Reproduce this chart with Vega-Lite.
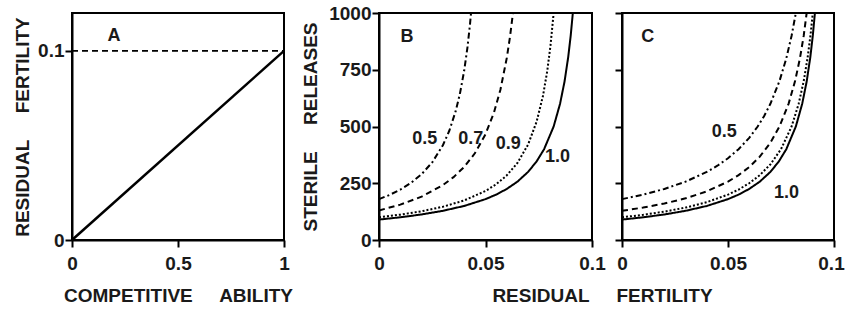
{
  "$schema": "https://vega.github.io/schema/vega-lite/v6.json",
  "background": "white",
  "padding": {"left": 12, "top": 3, "right": 0, "bottom": 5},
  "config": {
    "view": {"stroke": "black", "strokeWidth": 2},
    "font": "Liberation Sans",
    "axis": {
      "grid": false, "domainColor": "black", "domainWidth": 2,
      "tickColor": "black", "tickWidth": 2, "tickSize": 7,
      "labelFont": "Liberation Sans", "labelFontWeight": "bold", "labelFontSize": 19, "labelColor": "#1a1a1a",
      "titleFont": "Liberation Sans", "titleFontWeight": "bold", "titleFontSize": 19, "titleColor": "#1a1a1a",
      "labelFlush": false, "labelOverlap": false
    },
    "axisX": {"labelPadding": 7, "titlePadding": 13},
    "axisY": {"labelPadding": 1, "titlePadding": 5}
  },
  "datasets": {
    "lineA": [{"x": 0, "y": 0}, {"x": 1, "y": 0.1}],
    "dashA": [{"x": 0, "y": 0.1}, {"x": 1, "y": 0.1}],
    "B": [
      {"c": "0.5", "f": 0, "S": 180}, {"c": "0.5", "f": 0.005, "S": 198.7}, {"c": "0.5", "f": 0.01, "S": 222}, {"c": "0.5", "f": 0.015, "S": 251.5}, {"c": "0.5", "f": 0.02, "S": 289.9}, {"c": "0.5", "f": 0.025, "S": 342.2}, {"c": "0.5", "f": 0.03, "S": 417.6}, {"c": "0.5", "f": 0.033, "S": 481.2}, {"c": "0.5", "f": 0.036, "S": 567.7}, {"c": "0.5", "f": 0.038, "S": 644.9}, {"c": "0.5", "f": 0.04, "S": 746.5}, {"c": "0.5", "f": 0.0415, "S": 846.4}, {"c": "0.5", "f": 0.0427, "S": 948}, {"c": "0.5", "f": 0.0432, "S": 1000},
      {"c": "0.7", "f": 0, "S": 130}, {"c": "0.7", "f": 0.01, "S": 155.8}, {"c": "0.7", "f": 0.02, "S": 191.1}, {"c": "0.7", "f": 0.03, "S": 242}, {"c": "0.7", "f": 0.035, "S": 277}, {"c": "0.7", "f": 0.04, "S": 322}, {"c": "0.7", "f": 0.045, "S": 382}, {"c": "0.7", "f": 0.05, "S": 466}, {"c": "0.7", "f": 0.054, "S": 562}, {"c": "0.7", "f": 0.057, "S": 662}, {"c": "0.7", "f": 0.06, "S": 802}, {"c": "0.7", "f": 0.0615, "S": 895}, {"c": "0.7", "f": 0.0629, "S": 1000},
      {"c": "0.9", "f": 0, "S": 99.9}, {"c": "0.9", "f": 0.01, "S": 111.6}, {"c": "0.9", "f": 0.02, "S": 126.6}, {"c": "0.9", "f": 0.03, "S": 146.5}, {"c": "0.9", "f": 0.04, "S": 174.3}, {"c": "0.9", "f": 0.05, "S": 215.9}, {"c": "0.9", "f": 0.055, "S": 245.4}, {"c": "0.9", "f": 0.06, "S": 284.7}, {"c": "0.9", "f": 0.065, "S": 339.3}, {"c": "0.9", "f": 0.07, "S": 420.6}, {"c": "0.9", "f": 0.074, "S": 521.2}, {"c": "0.9", "f": 0.077, "S": 635.6}, {"c": "0.9", "f": 0.079, "S": 745.1}, {"c": "0.9", "f": 0.0805, "S": 856}, {"c": "0.9", "f": 0.082, "S": 1000},
      {"c": "1.0", "f": 0, "S": 90}, {"c": "1.0", "f": 0.01, "S": 100}, {"c": "1.0", "f": 0.02, "S": 112.5}, {"c": "1.0", "f": 0.03, "S": 128.6}, {"c": "1.0", "f": 0.04, "S": 150}, {"c": "1.0", "f": 0.05, "S": 180}, {"c": "1.0", "f": 0.055, "S": 200}, {"c": "1.0", "f": 0.06, "S": 225}, {"c": "1.0", "f": 0.065, "S": 257.1}, {"c": "1.0", "f": 0.07, "S": 300}, {"c": "1.0", "f": 0.074, "S": 346.2}, {"c": "1.0", "f": 0.0775, "S": 400}, {"c": "1.0", "f": 0.082, "S": 500}, {"c": "1.0", "f": 0.085, "S": 600}, {"c": "1.0", "f": 0.0871, "S": 697.7}, {"c": "1.0", "f": 0.0888, "S": 803.6}, {"c": "1.0", "f": 0.09, "S": 900}, {"c": "1.0", "f": 0.091, "S": 1000}
    ],
    "C": [
      {"c": "0.5", "f": 0, "S": 180}, {"c": "0.5", "f": 0.01, "S": 200}, {"c": "0.5", "f": 0.02, "S": 225}, {"c": "0.5", "f": 0.03, "S": 257.1}, {"c": "0.5", "f": 0.04, "S": 300}, {"c": "0.5", "f": 0.045, "S": 327.3}, {"c": "0.5", "f": 0.05, "S": 360}, {"c": "0.5", "f": 0.055, "S": 400}, {"c": "0.5", "f": 0.06, "S": 450}, {"c": "0.5", "f": 0.064, "S": 500}, {"c": "0.5", "f": 0.067, "S": 545.5}, {"c": "0.5", "f": 0.07, "S": 600}, {"c": "0.5", "f": 0.0743, "S": 700.4}, {"c": "0.5", "f": 0.0775, "S": 800}, {"c": "0.5", "f": 0.08, "S": 900}, {"c": "0.5", "f": 0.082, "S": 1000},
      {"c": "0.7", "f": 0, "S": 128.6}, {"c": "0.7", "f": 0.01, "S": 142.9}, {"c": "0.7", "f": 0.02, "S": 160.7}, {"c": "0.7", "f": 0.03, "S": 183.7}, {"c": "0.7", "f": 0.04, "S": 214.3}, {"c": "0.7", "f": 0.05, "S": 257.1}, {"c": "0.7", "f": 0.055, "S": 285.7}, {"c": "0.7", "f": 0.06, "S": 321.4}, {"c": "0.7", "f": 0.065, "S": 367.3}, {"c": "0.7", "f": 0.07, "S": 428.6}, {"c": "0.7", "f": 0.0743, "S": 500.3}, {"c": "0.7", "f": 0.0786, "S": 600.8}, {"c": "0.7", "f": 0.0816, "S": 698.8}, {"c": "0.7", "f": 0.0839, "S": 798.6}, {"c": "0.7", "f": 0.0857, "S": 899.1}, {"c": "0.7", "f": 0.0871, "S": 1000},
      {"c": "0.9", "f": 0, "S": 100}, {"c": "0.9", "f": 0.01, "S": 111.1}, {"c": "0.9", "f": 0.02, "S": 125}, {"c": "0.9", "f": 0.03, "S": 142.9}, {"c": "0.9", "f": 0.04, "S": 166.7}, {"c": "0.9", "f": 0.05, "S": 200}, {"c": "0.9", "f": 0.055, "S": 222.2}, {"c": "0.9", "f": 0.06, "S": 250}, {"c": "0.9", "f": 0.065, "S": 285.7}, {"c": "0.9", "f": 0.07, "S": 333.3}, {"c": "0.9", "f": 0.075, "S": 400}, {"c": "0.9", "f": 0.08, "S": 500}, {"c": "0.9", "f": 0.0833, "S": 598.8}, {"c": "0.9", "f": 0.0857, "S": 699.3}, {"c": "0.9", "f": 0.0875, "S": 800}, {"c": "0.9", "f": 0.0889, "S": 900.9}, {"c": "0.9", "f": 0.09, "S": 1000},
      {"c": "1.0", "f": 0, "S": 90}, {"c": "1.0", "f": 0.01, "S": 100}, {"c": "1.0", "f": 0.02, "S": 112.5}, {"c": "1.0", "f": 0.03, "S": 128.6}, {"c": "1.0", "f": 0.04, "S": 150}, {"c": "1.0", "f": 0.05, "S": 180}, {"c": "1.0", "f": 0.055, "S": 200}, {"c": "1.0", "f": 0.06, "S": 225}, {"c": "1.0", "f": 0.065, "S": 257.1}, {"c": "1.0", "f": 0.07, "S": 300}, {"c": "1.0", "f": 0.074, "S": 346.2}, {"c": "1.0", "f": 0.0775, "S": 400}, {"c": "1.0", "f": 0.082, "S": 500}, {"c": "1.0", "f": 0.085, "S": 600}, {"c": "1.0", "f": 0.0871, "S": 697.7}, {"c": "1.0", "f": 0.0888, "S": 803.6}, {"c": "1.0", "f": 0.09, "S": 900}, {"c": "1.0", "f": 0.091, "S": 1000}
    ],
    "labA": [{"x": 0.198, "y": 0.1077, "t": "A"}],
    "labB": [{"f": 0.0132, "S": 894, "t": "B"}, {"f": 0.0215, "S": 444, "t": "0.5"}, {"f": 0.0431, "S": 444, "t": "0.7"}, {"f": 0.0607, "S": 423, "t": "0.9"}, {"f": 0.0838, "S": 364, "t": "1.0"}],
    "labC": [{"f": 0.0122, "S": 894, "t": "C"}, {"f": 0.0482, "S": 475, "t": "0.5"}, {"f": 0.0776, "S": 206, "t": "1.0"}]
  },
  "spacing": 6,
  "hconcat": [
    {
      "width": 212, "height": 227,
      "layer": [
        {
          "data": {"name": "dashA"},
          "mark": {"type": "line", "color": "black", "strokeWidth": 1.8, "strokeDash": [6, 4]},
          "encoding": {
            "x": {"field": "x", "type": "quantitative", "scale": {"domain": [0, 1]}, "axis": {"values": [0, 0.5, 1], "format": "~g", "title": "COMPETITIVE\u00a0\u00a0\u00a0\u00a0\u00a0ABILITY"}},
            "y": {"field": "y", "type": "quantitative", "scale": {"domain": [0, 0.12]}, "axis": {"values": [0, 0.1], "format": "~g", "title": "RESIDUAL\u00a0\u00a0\u00a0\u00a0\u00a0FERTILITY"}}
          }
        },
        {
          "data": {"name": "lineA"},
          "mark": {"type": "line", "color": "black", "strokeWidth": 2.5},
          "encoding": {
            "x": {"field": "x", "type": "quantitative"},
            "y": {"field": "y", "type": "quantitative"}
          }
        },
        {
          "data": {"name": "labA"},
          "mark": {"type": "text", "font": "Liberation Sans", "fontWeight": "bold", "fontSize": 18, "color": "#1a1a1a", "align": "center", "baseline": "middle"},
          "encoding": {
            "x": {"field": "x", "type": "quantitative"},
            "y": {"field": "y", "type": "quantitative"},
            "text": {"field": "t"}
          }
        }
      ]
    },
    {
      "width": 213, "height": 227,
      "layer": [
        {
          "data": {"name": "B"},
          "mark": {"type": "line", "color": "black", "strokeWidth": 2},
          "encoding": {
            "x": {"field": "f", "type": "quantitative", "scale": {"domain": [0, 0.1]}, "axis": {"values": [0, 0.05, 0.1], "format": "~g", "title": "RESIDUAL", "titleX": 210, "titleAlign": "right"}},
            "y": {"field": "S", "type": "quantitative", "scale": {"domain": [0, 1000]}, "axis": {"values": [0, 250, 500, 750, 1000], "format": "d", "title": "STERILE\u00a0\u00a0\u00a0\u00a0\u00a0RELEASES", "titlePadding": 8}},
            "strokeDash": {"field": "c", "type": "nominal", "legend": null, "scale": {"domain": ["0.5", "0.7", "0.9", "1.0"], "range": [[6, 3, 2, 3], [6, 4], [2, 2], [1, 0]]}}
          }
        },
        {
          "data": {"name": "labB"},
          "mark": {"type": "text", "font": "Liberation Sans", "fontWeight": "bold", "fontSize": 18, "color": "#1a1a1a", "align": "center", "baseline": "middle"},
          "encoding": {
            "x": {"field": "f", "type": "quantitative"},
            "y": {"field": "S", "type": "quantitative"},
            "text": {"field": "t"}
          }
        }
      ]
    },
    {
      "width": 212, "height": 227,
      "layer": [
        {
          "data": {"name": "C"},
          "mark": {"type": "line", "color": "black", "strokeWidth": 2},
          "encoding": {
            "x": {"field": "f", "type": "quantitative", "scale": {"domain": [0, 0.1]}, "axis": {"values": [0, 0.05, 0.1], "format": "~g", "title": "FERTILITY", "titleX": -6, "titleAlign": "left", "labelOffset": {"condition": {"test": "datum.value == 0.1", "value": -3}, "value": 0}}},
            "y": {"field": "S", "type": "quantitative", "scale": {"domain": [0, 1000]}, "axis": {"values": [0, 250, 500, 750, 1000], "labels": false, "title": null}},
            "strokeDash": {"field": "c", "type": "nominal", "legend": null, "scale": {"domain": ["0.5", "0.7", "0.9", "1.0"], "range": [[6, 3, 2, 3], [6, 4], [2, 2], [1, 0]]}}
          }
        },
        {
          "data": {"name": "labC"},
          "mark": {"type": "text", "font": "Liberation Sans", "fontWeight": "bold", "fontSize": 18, "color": "#1a1a1a", "align": "center", "baseline": "middle"},
          "encoding": {
            "x": {"field": "f", "type": "quantitative"},
            "y": {"field": "S", "type": "quantitative"},
            "text": {"field": "t"}
          }
        }
      ]
    }
  ]
}
